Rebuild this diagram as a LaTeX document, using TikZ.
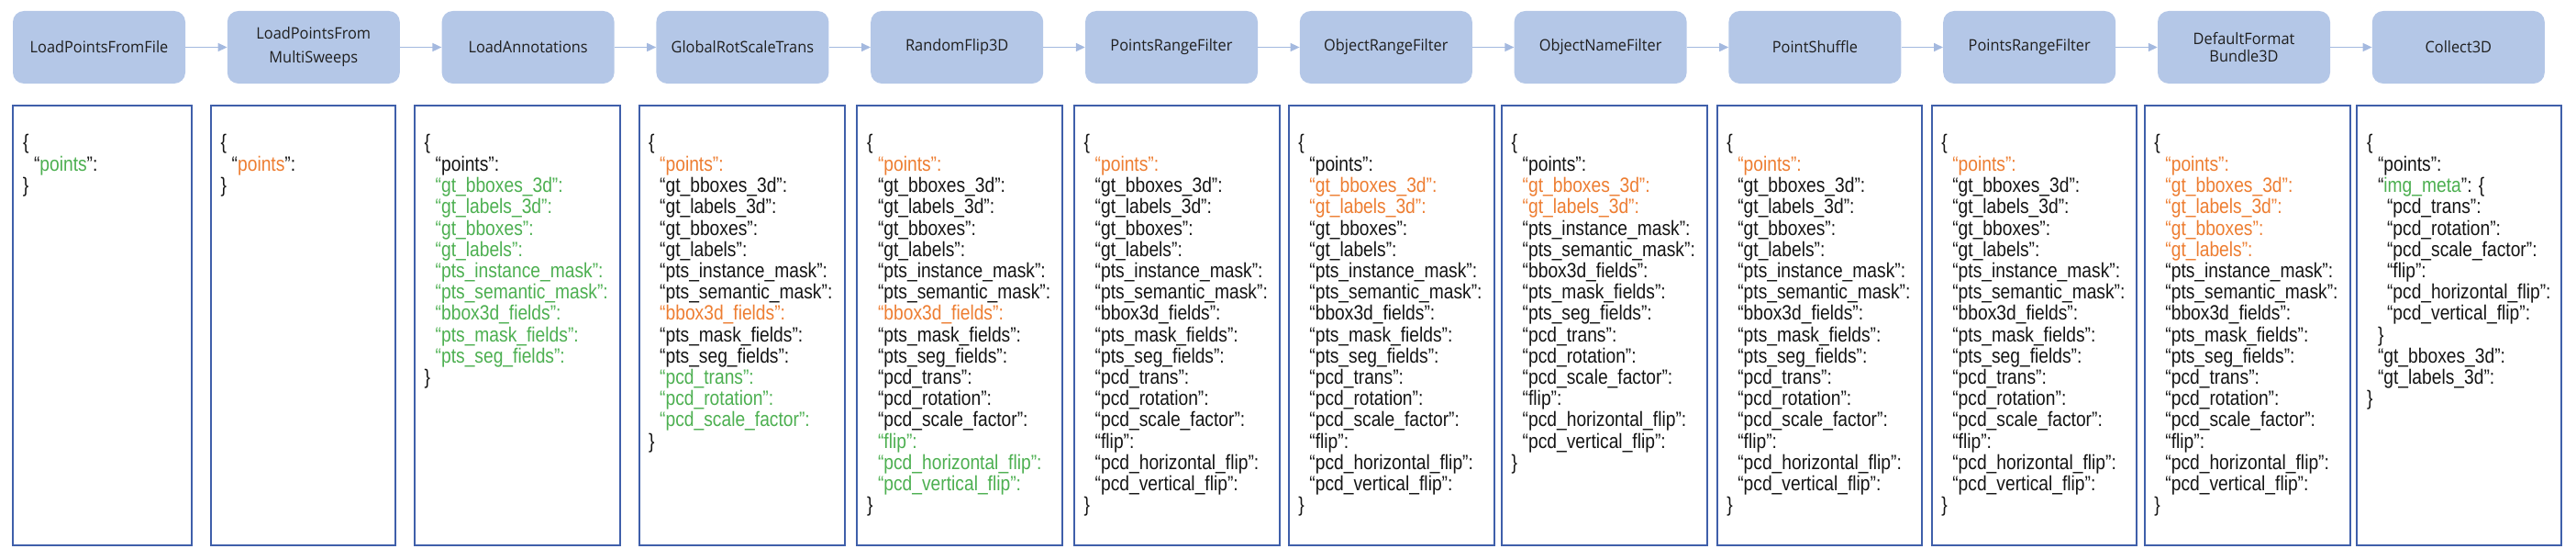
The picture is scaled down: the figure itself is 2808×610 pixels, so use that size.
\documentclass[tikz,border=0pt]{standalone}
\usepackage{fontspec}
\usetikzlibrary{arrows.meta}
\newfontfamily\jsonfont[FakeStretch=0.855]{Liberation Sans}
\newfontfamily\stagefont[FakeStretch=0.95]{Open Sans}
\definecolor{boxfill}{HTML}{B4C7E7}
\definecolor{arrcol}{HTML}{A4B9DF}
\definecolor{rectcol}{HTML}{3F5FAA}
\definecolor{corange}{HTML}{ED7D31}
\definecolor{cgreen}{HTML}{4CAF50}
\newcommand\jind{\hspace*{12pt}}
\newcommand\jindd{\hspace*{22pt}}
\newcommand\kb[1]{\jind“#1”:}
\newcommand\ko[1]{\jind\textcolor{corange}{“#1”:}}
\newcommand\kg[1]{\jind\textcolor{cgreen}{“#1”:}}
\newcommand\kbb[1]{\jindd“#1”:}
\begin{document}
\begin{tikzpicture}[x=1pt,y=-1pt,
  stage/.style={fill=boxfill, rounded corners=12pt, minimum width=188pt, minimum height=79pt,
    inner sep=0pt, align=center, text=black!88,
    font=\stagefont\fontsize{17.2}{26}\selectfont},
  flow/.style={draw=arrcol, line width=1.6pt, -{Triangle[length=10pt,width=9pt]}},
  rbox/.style={draw=rectcol, line width=2pt, minimum height=478.5pt, inner sep=0pt, anchor=north west},
  json/.style={anchor=north west, inner sep=0pt, align=left, text=black!92,
    font=\jsonfont\fontsize{22.5}{23.2}\selectfont}]
\useasboundingbox (0,0) rectangle (2808,610);
% stages
\node[stage] (b1) at (108,51.5) {LoadPointsFromFile};
\node[stage] (b2) at (341.8,51.5) {LoadPointsFrom\\MultiSweeps};
\node[stage] (b3) at (575.6,51.5) {LoadAnnotations};
\node[stage] (b4) at (809.4,51.5) {GlobalRotScaleTrans};
\node[stage] (b5) at (1043.2,51.5) {RandomFlip3D};
\node[stage] (b6) at (1277,51.5) {PointsRangeFilter};
\node[stage] (b7) at (1510.8,51.5) {ObjectRangeFilter};
\node[stage] (b8) at (1744.6,51.5) {ObjectNameFilter};
\node[stage] (b9) at (1978.4,51.5) {PointShuffle};
\node[stage] (b10) at (2212.2,51.5) {PointsRangeFilter};
\node[stage, font=\stagefont\fontsize{17.2}{19.5}\selectfont] (b11) at (2446,51.5) {DefaultFormat\\Bundle3D};
\node[stage] (b12) at (2679.8,51.5) {Collect3D};
\foreach \a/\b in {b1/b2,b2/b3,b3/b4,b4/b5,b5/b6,b6/b7,b7/b8,b8/b9,b9/b10,b10/b11,b11/b12}
  \draw[flow] (\a.east) -- (\b.west);
% data boxes
\node[rbox, minimum width=195pt] (r1) at (13.3,114) {};
\node[rbox, minimum width=201pt] (r2) at (229,114) {};
\node[rbox, minimum width=224pt] (r3) at (451,114) {};
\node[rbox, minimum width=224pt] (r4) at (695.5,114) {};
\node[rbox, minimum width=224pt] (r5) at (933.3,114) {};
\node[rbox, minimum width=224pt] (r6) at (1170,114) {};
\node[rbox, minimum width=224pt] (r7) at (1403.7,114) {};
\node[rbox, minimum width=224pt] (r8) at (1636,114) {};
\node[rbox, minimum width=223.5pt] (r9) at (1870.6,114) {};
\node[rbox, minimum width=223.5pt] (r10) at (2104.6,114) {};
\node[rbox, minimum width=223.8pt] (r11) at (2336.7,114) {};
\node[rbox, minimum width=223pt] (r12) at (2568.3,114) {};
% texts
\node[json] (t1) at (24.8,145.8) {\{\strut\\
\jind“\textcolor{cgreen}{points}”:\\
\}};
\node[json] (t2) at (240.5,145.8) {\{\strut\\
\jind“\textcolor{corange}{points}”:\\
\}};
\node[json] (t3) at (462.5,145.8) {\{\strut\\
\kb{points}\\
\kg{gt\_bboxes\_3d}\\
\kg{gt\_labels\_3d}\\
\kg{gt\_bboxes}\\
\kg{gt\_labels}\\
\kg{pts\_instance\_mask}\\
\kg{pts\_semantic\_mask}\\
\kg{bbox3d\_fields}\\
\kg{pts\_mask\_fields}\\
\kg{pts\_seg\_fields}\\
\}};
\node[json] (t4) at (707,145.8) {\{\strut\\
\ko{points}\\
\kb{gt\_bboxes\_3d}\\
\kb{gt\_labels\_3d}\\
\kb{gt\_bboxes}\\
\kb{gt\_labels}\\
\kb{pts\_instance\_mask}\\
\kb{pts\_semantic\_mask}\\
\ko{bbox3d\_fields}\\
\kb{pts\_mask\_fields}\\
\kb{pts\_seg\_fields}\\
\kg{pcd\_trans}\\
\kg{pcd\_rotation}\\
\kg{pcd\_scale\_factor}\\
\}};
\node[json] (t5) at (944.8,145.8) {\{\strut\\
\ko{points}\\
\kb{gt\_bboxes\_3d}\\
\kb{gt\_labels\_3d}\\
\kb{gt\_bboxes}\\
\kb{gt\_labels}\\
\kb{pts\_instance\_mask}\\
\kb{pts\_semantic\_mask}\\
\ko{bbox3d\_fields}\\
\kb{pts\_mask\_fields}\\
\kb{pts\_seg\_fields}\\
\kb{pcd\_trans}\\
\kb{pcd\_rotation}\\
\kb{pcd\_scale\_factor}\\
\kg{flip}\\
\kg{pcd\_horizontal\_flip}\\
\kg{pcd\_vertical\_flip}\\
\}};
\node[json] (t6) at (1181.5,145.8) {\{\strut\\
\ko{points}\\
\kb{gt\_bboxes\_3d}\\
\kb{gt\_labels\_3d}\\
\kb{gt\_bboxes}\\
\kb{gt\_labels}\\
\kb{pts\_instance\_mask}\\
\kb{pts\_semantic\_mask}\\
\kb{bbox3d\_fields}\\
\kb{pts\_mask\_fields}\\
\kb{pts\_seg\_fields}\\
\kb{pcd\_trans}\\
\kb{pcd\_rotation}\\
\kb{pcd\_scale\_factor}\\
\kb{flip}\\
\kb{pcd\_horizontal\_flip}\\
\kb{pcd\_vertical\_flip}\\
\}};
\node[json] (t7) at (1415.2,145.8) {\{\strut\\
\kb{points}\\
\ko{gt\_bboxes\_3d}\\
\ko{gt\_labels\_3d}\\
\kb{gt\_bboxes}\\
\kb{gt\_labels}\\
\kb{pts\_instance\_mask}\\
\kb{pts\_semantic\_mask}\\
\kb{bbox3d\_fields}\\
\kb{pts\_mask\_fields}\\
\kb{pts\_seg\_fields}\\
\kb{pcd\_trans}\\
\kb{pcd\_rotation}\\
\kb{pcd\_scale\_factor}\\
\kb{flip}\\
\kb{pcd\_horizontal\_flip}\\
\kb{pcd\_vertical\_flip}\\
\}};
\node[json] (t8) at (1647.5,145.8) {\{\strut\\
\kb{points}\\
\ko{gt\_bboxes\_3d}\\
\ko{gt\_labels\_3d}\\
\kb{pts\_instance\_mask}\\
\kb{pts\_semantic\_mask}\\
\kb{bbox3d\_fields}\\
\kb{pts\_mask\_fields}\\
\kb{pts\_seg\_fields}\\
\kb{pcd\_trans}\\
\kb{pcd\_rotation}\\
\kb{pcd\_scale\_factor}\\
\kb{flip}\\
\kb{pcd\_horizontal\_flip}\\
\kb{pcd\_vertical\_flip}\\
\}};
\node[json] (t9) at (1882.1,145.8) {\{\strut\\
\ko{points}\\
\kb{gt\_bboxes\_3d}\\
\kb{gt\_labels\_3d}\\
\kb{gt\_bboxes}\\
\kb{gt\_labels}\\
\kb{pts\_instance\_mask}\\
\kb{pts\_semantic\_mask}\\
\kb{bbox3d\_fields}\\
\kb{pts\_mask\_fields}\\
\kb{pts\_seg\_fields}\\
\kb{pcd\_trans}\\
\kb{pcd\_rotation}\\
\kb{pcd\_scale\_factor}\\
\kb{flip}\\
\kb{pcd\_horizontal\_flip}\\
\kb{pcd\_vertical\_flip}\\
\}};
\node[json] (t10) at (2116.1,145.8) {\{\strut\\
\ko{points}\\
\kb{gt\_bboxes\_3d}\\
\kb{gt\_labels\_3d}\\
\kb{gt\_bboxes}\\
\kb{gt\_labels}\\
\kb{pts\_instance\_mask}\\
\kb{pts\_semantic\_mask}\\
\kb{bbox3d\_fields}\\
\kb{pts\_mask\_fields}\\
\kb{pts\_seg\_fields}\\
\kb{pcd\_trans}\\
\kb{pcd\_rotation}\\
\kb{pcd\_scale\_factor}\\
\kb{flip}\\
\kb{pcd\_horizontal\_flip}\\
\kb{pcd\_vertical\_flip}\\
\}};
\node[json] (t11) at (2348.2,145.8) {\{\strut\\
\ko{points}\\
\ko{gt\_bboxes\_3d}\\
\ko{gt\_labels\_3d}\\
\ko{gt\_bboxes}\\
\ko{gt\_labels}\\
\kb{pts\_instance\_mask}\\
\kb{pts\_semantic\_mask}\\
\kb{bbox3d\_fields}\\
\kb{pts\_mask\_fields}\\
\kb{pts\_seg\_fields}\\
\kb{pcd\_trans}\\
\kb{pcd\_rotation}\\
\kb{pcd\_scale\_factor}\\
\kb{flip}\\
\kb{pcd\_horizontal\_flip}\\
\kb{pcd\_vertical\_flip}\\
\}};
\node[json] (t12) at (2579.8,145.8) {\{\strut\\
\kb{points}\\
\jind“\textcolor{cgreen}{img\_meta}”: \{\\
\kbb{pcd\_trans}\\
\kbb{pcd\_rotation}\\
\kbb{pcd\_scale\_factor}\\
\kbb{flip}\\
\kbb{pcd\_horizontal\_flip}\\
\kbb{pcd\_vertical\_flip}\\
\jind\}\\
\kb{gt\_bboxes\_3d}\\
\kb{gt\_labels\_3d}\\
\}};
\end{tikzpicture}
\end{document}
